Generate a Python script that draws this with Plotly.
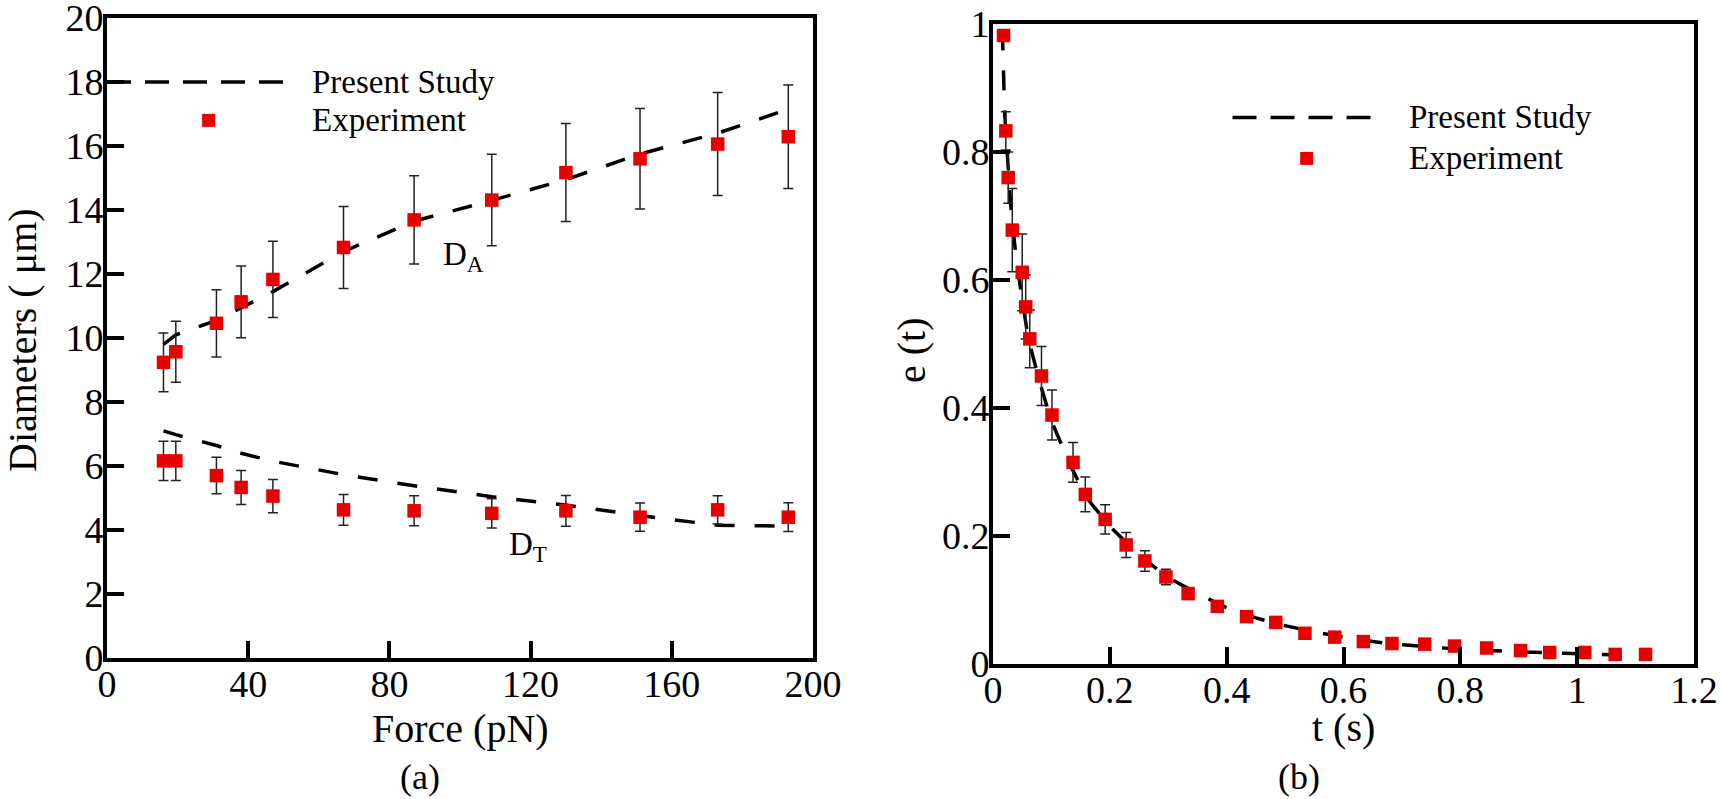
import plotly.graph_objects as go

# ---------------- data: panel (a) ----------------
force = [16, 19.5, 31, 38, 47, 67, 87, 109, 130, 151, 173, 193]
da_exp = [9.24, 9.57, 10.46, 11.13, 11.83, 12.83, 13.69, 14.31, 15.17, 15.60, 16.06, 16.29]
da_err = [0.92, 0.95, 1.05, 1.12, 1.19, 1.28, 1.38, 1.43, 1.53, 1.57, 1.61, 1.62]
dt_exp = [6.16, 6.16, 5.70, 5.33, 5.06, 4.63, 4.60, 4.52, 4.60, 4.40, 4.63, 4.40]
dt_err = [0.61, 0.61, 0.57, 0.53, 0.52, 0.48, 0.47, 0.46, 0.48, 0.44, 0.44, 0.45]
da_model = [9.8, 10.1, 10.55, 10.95, 11.45, 12.7, 13.65, 14.3, 14.95, 15.75, 16.4, 17.15]
dt_model = [7.1, 6.98, 6.64, 6.4, 6.15, 5.73, 5.38, 5.04, 4.78, 4.45, 4.15, 4.12]

# ---------------- data: panel (b) ----------------
t_exp = [0.018, 0.022, 0.026, 0.033, 0.050, 0.056, 0.063, 0.083, 0.101, 0.137, 0.158,
         0.192, 0.228, 0.260, 0.296, 0.334, 0.384, 0.434, 0.484, 0.534, 0.585, 0.634,
         0.683, 0.739, 0.790, 0.845, 0.903, 0.953, 1.013, 1.065, 1.117]
e_exp = [0.982, 0.833, 0.760, 0.678, 0.612, 0.558, 0.508, 0.450, 0.389, 0.315, 0.265,
         0.226, 0.186, 0.161, 0.136, 0.110, 0.090, 0.074, 0.065, 0.048, 0.042, 0.035,
         0.032, 0.031, 0.028, 0.025, 0.021, 0.018, 0.018, 0.015, 0.015]
e_err = [0.0, 0.03, 0.04, 0.065, 0.06, 0.05, 0.045, 0.046, 0.039, 0.031, 0.027,
         0.023, 0.0195, 0.016, 0.012, 0.008, 0, 0, 0, 0, 0, 0,
         0, 0, 0, 0, 0, 0, 0, 0, 0]
t_model = [0.016, 0.02, 0.03, 0.04, 0.05, 0.06, 0.08, 0.10, 0.13, 0.16, 0.20, 0.25,
           0.30, 0.35, 0.40, 0.45, 0.50, 0.55, 0.60, 0.65, 0.70, 0.80, 0.90, 1.00, 1.11]
e_model = [0.99, 0.86, 0.72, 0.63, 0.57, 0.51, 0.44, 0.38, 0.315, 0.26, 0.215, 0.17,
           0.135, 0.11, 0.088, 0.072, 0.06, 0.05, 0.042, 0.035, 0.03, 0.023, 0.019, 0.016, 0.013]

x1_ticks = [0, 40, 80, 120, 160, 200]
y1_ticks = [0, 2, 4, 6, 8, 10, 12, 14, 16, 18, 20]
x2_ticks = [0, 0.2, 0.4, 0.6, 0.8, 1.0, 1.2]
x2_labels = ["0", "0.2", "0.4", "0.6", "0.8", "1", "1.2"]
y2_ticks = [0, 0.2, 0.4, 0.6, 0.8, 1.0]
y2_labels = ["0", "0.2", "0.4", "0.6", "0.8", "1"]

legend_labels = ["Present Study", "Experiment"]

FONT = "Liberation Serif"
RED = "rgb(230,0,0)"
W, H = 1723, 799

fig = go.Figure()

line_style = dict(color="black", width=3.5, dash="20px,20px")
err_style = dict(color="#222222", thickness=1.5, width=5)
mk = dict(symbol="square", size=13.5, color=RED)

# panel (a)
fig.add_trace(go.Scatter(x=force, y=da_model, mode="lines", line=line_style,
                         xaxis="x", yaxis="y", showlegend=False))
fig.add_trace(go.Scatter(x=force, y=dt_model, mode="lines", line=line_style,
                         xaxis="x", yaxis="y", showlegend=False))
fig.add_trace(go.Scatter(x=force, y=da_exp, mode="markers", marker=mk,
                         error_y=dict(type="data", array=da_err, **err_style),
                         xaxis="x", yaxis="y", showlegend=False))
fig.add_trace(go.Scatter(x=force, y=dt_exp, mode="markers", marker=mk,
                         error_y=dict(type="data", array=dt_err, **err_style),
                         xaxis="x", yaxis="y", showlegend=False))

# panel (b)
fig.add_trace(go.Scatter(x=t_model, y=e_model, mode="lines", line=line_style,
                         xaxis="x2", yaxis="y2", showlegend=False))
fig.add_trace(go.Scatter(x=t_exp, y=e_exp, mode="markers", marker=mk,
                         error_y=dict(type="data", array=e_err, **err_style),
                         xaxis="x2", yaxis="y2", showlegend=False))

def px_x(p):
    return p / W

def px_y(p):
    return 1 - p / H

axis_common = dict(showline=True, linewidth=4, linecolor="black", mirror=True,
                   ticks="inside", ticklen=17, tickwidth=4, tickcolor="black",
                   showgrid=False, zeroline=False, automargin=False,
                   ticklabeloverflow="allow",
                   tickfont=dict(family=FONT, size=38, color="black"))
xax = dict(axis_common, ticklabelstandoff=-11)
yax = dict(axis_common, ticklabelstandoff=-8)

fig.update_layout(
    width=W, height=H,
    margin=dict(l=0, r=0, t=0, b=0),
    paper_bgcolor="white", plot_bgcolor="white",
    font=dict(family=FONT, color="black"),
    xaxis=dict(domain=[px_x(107), px_x(813)], range=[0, 200], tickvals=x1_ticks,
               anchor="y", **xax),
    yaxis=dict(domain=[px_y(658), px_y(18)], range=[0, 20], tickvals=y1_ticks,
               anchor="x", **yax),
    xaxis2=dict(domain=[px_x(993), px_x(1694)], range=[0, 1.2],
                tickvals=x2_ticks, ticktext=x2_labels, anchor="y2", **xax),
    yaxis2=dict(domain=[px_y(664), px_y(24)], range=[0, 1],
                tickvals=y2_ticks, ticktext=y2_labels, anchor="x2", **yax),
)

ann = []
def text(x, y, s, size=40, xref="paper", yref="paper", xanchor="center", yanchor="middle", angle=0):
    ann.append(dict(x=x, y=y, xref=xref, yref=yref, text=s, showarrow=False,
                    xanchor=xanchor, yanchor=yanchor, textangle=angle,
                    font=dict(family=FONT, size=size, color="black")))

# axis titles and panel labels
text(px_x(460), px_y(728), "Force (pN)")
text(px_x(420), px_y(777), "(a)", size=36)
text(px_x(1343), px_y(727), "t (s)")
text(px_x(1299), px_y(777), "(b)", size=36)
text(px_x(23), px_y(340), "Diameters ( μm)", angle=-90)
text(px_x(911), px_y(350), "e (t)", angle=-90)

# curve labels
text(94.5, 12.55, "D<sub>A</sub>", size=33, xref="x", yref="y", xanchor="left")
text(113.2, 3.5, "D<sub>T</sub>", size=33, xref="x", yref="y", xanchor="left")

# legends (as in the figure, drawn inside the axes)
shapes = []
def legend(xr, yr, lx0, lx1, ly, mx, my, tx):
    shapes.append(dict(type="line", xref=xr, yref=yr, x0=lx0, x1=lx1, y0=ly, y1=ly,
                       line=dict(color="black", width=3.5, dash="24px,14px")))
    shapes.append(dict(type="rect", xref=xr, yref=yr, xsizemode="pixel", ysizemode="pixel",
                       xanchor=mx, yanchor=my, x0=-6.5, x1=6.5, y0=-6.5, y1=6.5,
                       fillcolor=RED, line=dict(width=0)))
    text(tx, ly, legend_labels[0], size=33, xref=xr, yref=yr, xanchor="left")
    text(tx, my, legend_labels[1], size=33, xref=xr, yref=yr, xanchor="left")

legend("x", "y", 0, 50, 18.0, 28.8, 16.8, 57.6)
legend("x2", "y2", 0.41, 0.661, 0.854, 0.537, 0.79, 0.708)

fig.update_layout(annotations=ann, shapes=shapes)

# the page's default body margin would offset the figure by 8px
fig.write_html("out.html", config={"displayModeBar": False},
               post_script="document.body.style.margin='0';document.body.style.overflow='hidden';")
